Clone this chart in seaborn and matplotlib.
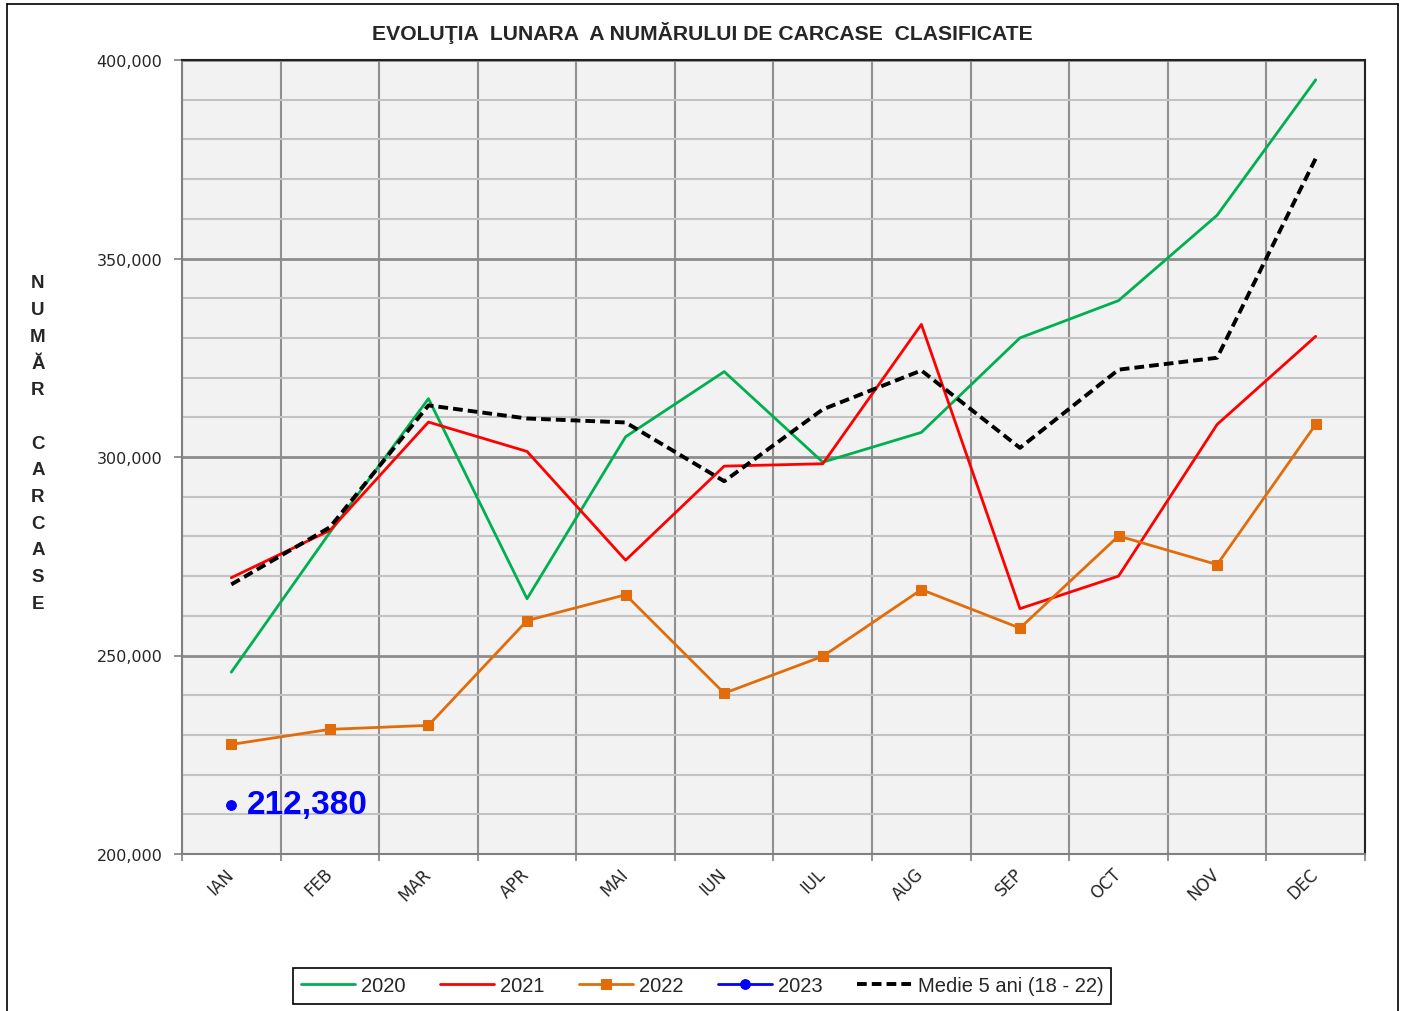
import numpy as np
import pandas as pd
import matplotlib
matplotlib.use("Agg")
import matplotlib.pyplot as plt
import seaborn as sns
from matplotlib.lines import Line2D
from matplotlib.ticker import MultipleLocator, FuncFormatter

# Date
luni = ["IAN", "FEB", "MAR", "APR", "MAI", "IUN", "IUL", "AUG", "SEP", "OCT", "NOV", "DEC"]
an_2020 = [245800, 281000, 314700, 264300, 305100, 321500, 298700, 306200, 330000, 339400, 360900, 395000]
an_2021 = [269600, 281500, 308800, 301400, 274000, 297700, 298300, 333400, 261800, 270000, 308200, 330400]
an_2022 = [227600, 231400, 232400, 258800, 265300, 240500, 249800, 266600, 256900, 280100, 272900, 308200]
an_2023 = [212380]
medie_5_ani = [267900, 282300, 313000, 309700, 308700, 293900, 312000, 321800, 302300, 322000, 325000, 375200]

titlu = "EVOLUŢIA  LUNARA  A NUMĂRULUI DE CARCASE  CLASIFICATE"
eticheta_y = "NUMĂR CARCASE"

sns.set_theme(style="white")
plt.rcParams["font.family"] = ["Liberation Sans", "DejaVu Sans"]

fig = plt.figure(figsize=(14.02, 10.12), dpi=100)
ax = fig.add_axes([182 / 1402, 1 - 855 / 1012, (1365 - 182) / 1402, (855 - 61) / 1012])
ax.set_facecolor("#f2f2f2")

x = np.arange(len(luni))
df = pd.DataFrame({"luna": x, "2020": an_2020, "2021": an_2021,
                   "2022": an_2022, "medie": medie_5_ani})

sns.lineplot(data=df, x="luna", y="2020", ax=ax, color="#00b050", lw=2, label="2020", zorder=3)
sns.lineplot(data=df, x="luna", y="2021", ax=ax, color="#ff0000", lw=2, label="2021", zorder=3)
sns.lineplot(data=df, x="luna", y="2022", ax=ax, color="#e36c0a", lw=2, marker="s",
             markersize=7, mec="#e36c0a", mfc="#e36c0a", label="2022", zorder=4)
sns.lineplot(x=x[:len(an_2023)], y=an_2023, ax=ax, color="#0000ff", lw=2, marker="o",
             markersize=7, mec="#0000ff", mfc="#0000ff", label="2023", zorder=4)
sns.lineplot(data=df, x="luna", y="medie", ax=ax, color="black", lw=2.8,
             linestyle=(0, (2.5, 1.3)), label="Medie 5 ani (18 - 22)", zorder=3)

ax.annotate(f"{an_2023[-1]:,}", (x[len(an_2023) - 1], an_2023[-1]), xytext=(11, 0),
            textcoords="offset points", ha="left", va="center",
            fontsize=24, fontweight="bold", color="#0000ff")

# axe si grila
ax.set_xlim(-0.5, len(luni) - 0.5)
ax.set_ylim(200000, 400000)
ax.set_xticks(np.arange(-0.5, len(luni)))
ax.set_xticklabels([])
ax.set_xticks(x, luni, minor=True)
ax.yaxis.set_major_locator(MultipleLocator(50000))
ax.yaxis.set_minor_locator(MultipleLocator(10000))
ax.yaxis.set_major_formatter(FuncFormatter(lambda v, p: f"{v:,.0f}"))
ax.grid(axis="y", which="minor", color="#c3c3c3", lw=1.5, zorder=0)
ax.grid(axis="y", which="major", color="#8c8c8c", lw=2, zorder=0)
ax.grid(axis="x", which="major", color="#8f8f8f", lw=1.5, zorder=0)
ax.set_axisbelow(True)

ax.tick_params(axis="y", which="major", direction="out", length=6, width=1.2,
               color="#808080", pad=8, labelsize=11.5, left=True)
ax.tick_params(axis="y", which="minor", length=0)
ax.tick_params(axis="x", which="major", direction="out", length=5, width=1.2,
               color="#808080", bottom=True)
ax.tick_params(axis="x", which="minor", length=0, pad=12, labelsize=12)
for lab in ax.get_yticklabels():
    lab.set_fontfamily(["DejaVu Sans"])
for lab in ax.get_xticklabels(minor=True):
    lab.set_rotation(45)
    lab.set_ha("right")
    lab.set_va("center")
    lab.set_rotation_mode("anchor")
    lab.set_fontfamily(["DejaVu Sans"])
ax.set_xlabel("")
ax.set_ylabel("")

for s in ["left", "bottom"]:
    ax.spines[s].set_color("#808080")
    ax.spines[s].set_linewidth(1.5)
for s in ["top", "right"]:
    ax.spines[s].set_color("#222222")
    ax.spines[s].set_linewidth(1.5)

# titlu si eticheta verticala
fig.text(702 / 1402, 1 - 33 / 1012, titlu, ha="center", va="center",
         fontsize=15.2, fontweight="bold")
for i, ch in enumerate(eticheta_y):
    fig.text(38 / 1402, 1 - (284 + i * 26.7) / 1012, ch, ha="center", va="center",
             fontsize=13.5, fontweight="bold")

# legenda
handles, labels = ax.get_legend_handles_labels()
ax.get_legend().remove()
leg = fig.legend(handles, labels, loc="center", bbox_to_anchor=(702 / 1402, 1 - 987 / 1012),
                 ncol=5, frameon=True, fancybox=False, edgecolor="black", framealpha=1,
                 handlelength=2.7, handletextpad=0.3, columnspacing=1.7, borderpad=0.4,
                 borderaxespad=0, prop={"family": ["Liberation Sans"], "size": 14.5})
leg.get_frame().set_linewidth(1.2)

# chenar exterior
fig.add_artist(Line2D([0.005, 0.005], [0, 0.995], color="black", lw=1.2))
fig.add_artist(Line2D([0.997, 0.997], [0, 0.995], color="black", lw=1.2))
fig.add_artist(Line2D([0.005, 0.997], [0.995, 0.995], color="black", lw=1.2))

fig.savefig("out.png", dpi=100, facecolor="white")
